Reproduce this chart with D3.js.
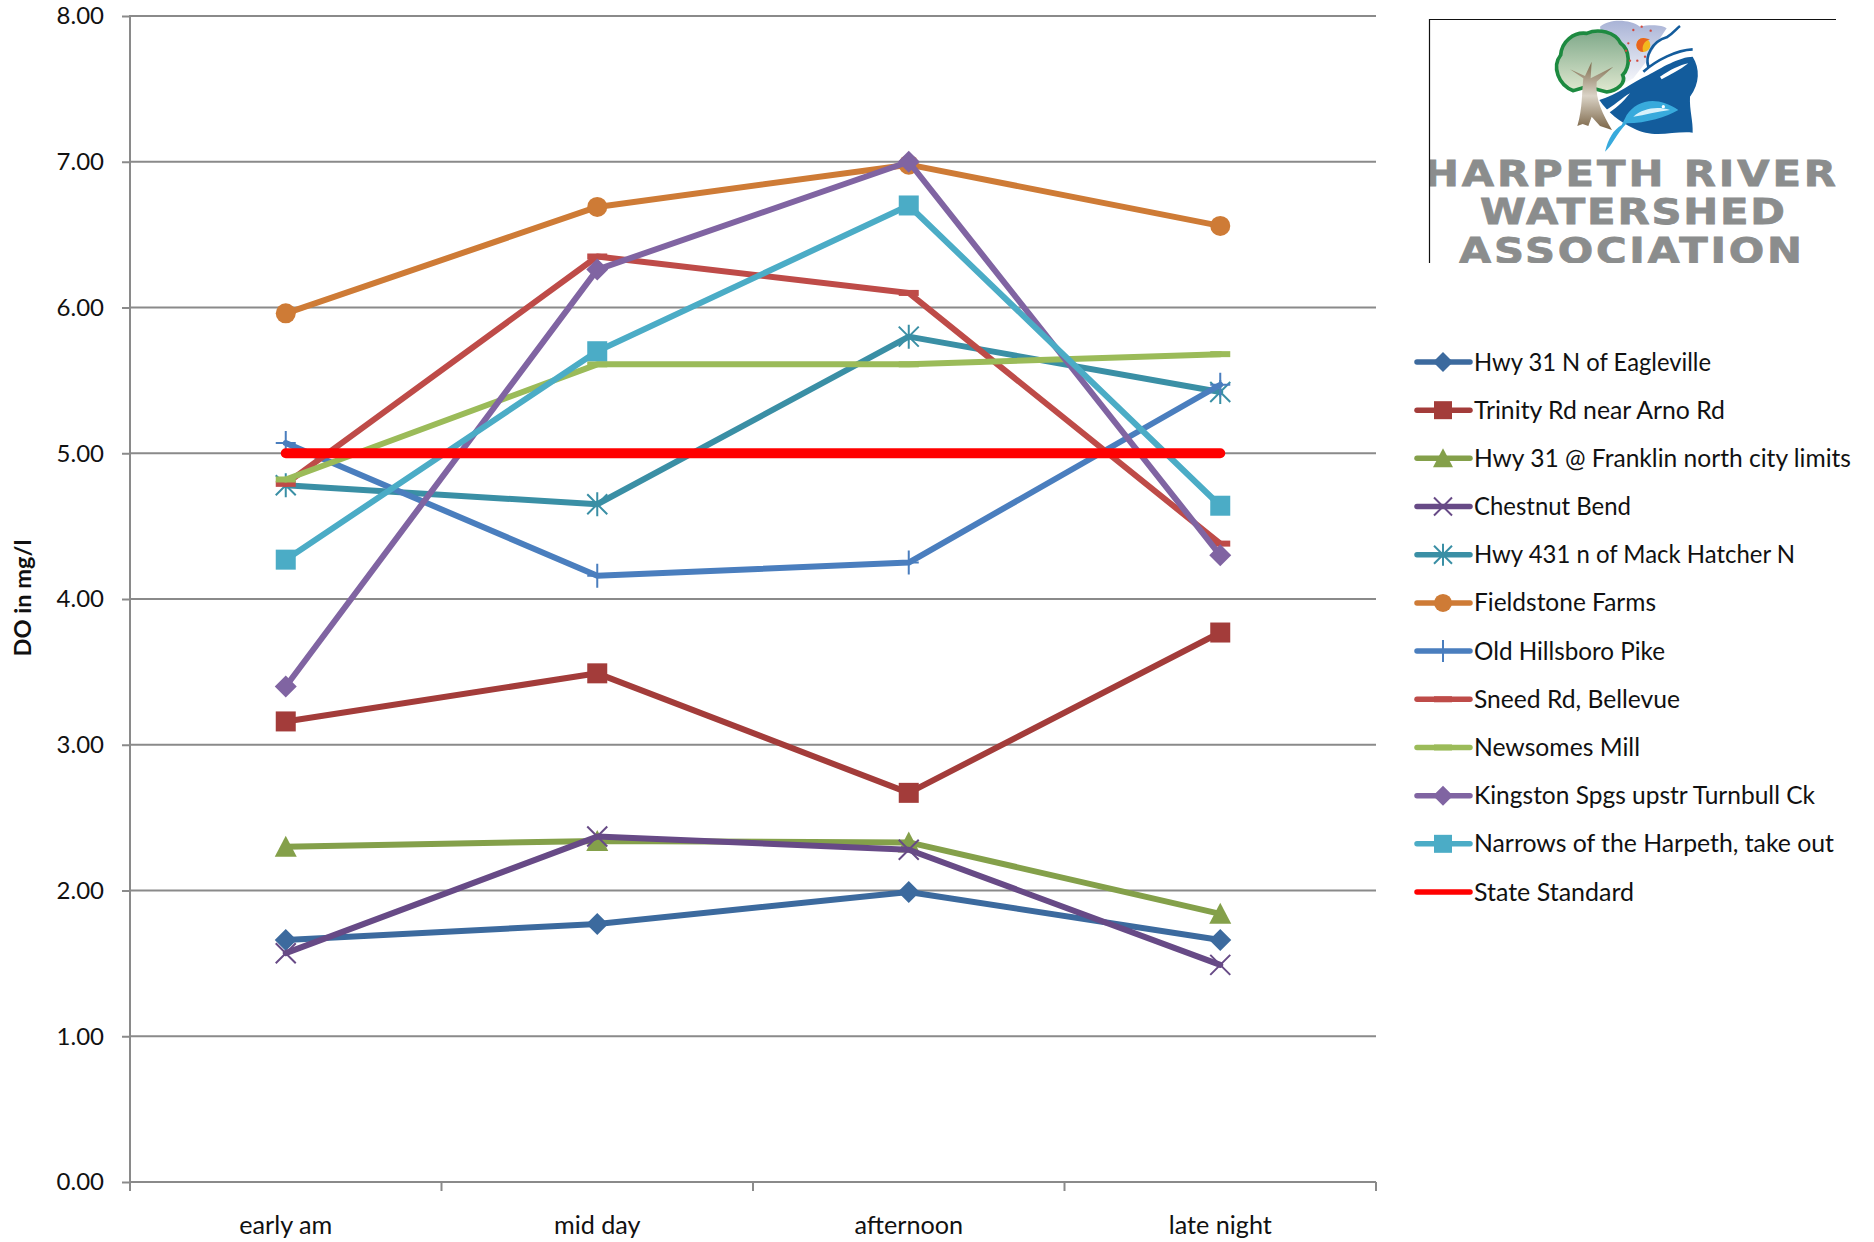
<!DOCTYPE html>
<html><head><meta charset="utf-8">
<script src="https://cdn.jsdelivr.net/npm/d3@7/dist/d3.min.js"></script>
<style>
html,body{margin:0;padding:0;background:#fff}
svg{display:block}
text{font-family:Lato,"Open Sans",sans-serif;fill:#111}
.axis path{display:none}
</style></head><body>
<svg id="chart" width="1874" height="1242"></svg>
<script>
const categories = ["early am","mid day","afternoon","late night"];
const yTicks = [0,1,2,3,4,5,6,7,8];
const seriesNames = ["Hwy 31 N of Eagleville","Trinity Rd near Arno Rd","Hwy 31 @ Franklin north city limits","Chestnut Bend","Hwy 431 n of Mack Hatcher N","Fieldstone Farms","Old Hillsboro Pike","Sneed Rd, Bellevue","Newsomes Mill","Kingston Spgs upstr Turnbull Ck","Narrows of the Harpeth, take out","State Standard"];
const hwy31N = [1.66,1.77,1.99,1.66];
const trinity = [3.16,3.49,2.67,3.77];
const franklin = [2.30,2.34,2.33,1.84];
const chestnut = [1.57,2.37,2.28,1.49];
const hwy431 = [4.78,4.65,5.80,5.42];
const fieldstone = [5.96,6.69,6.98,6.56];
const hillsboro = [5.07,4.16,4.25,5.47];
const sneed = [4.79,6.35,6.10,4.38];
const newsomes = [4.82,5.61,5.61,5.68];
const kingston = [3.40,6.26,7.00,4.30];
const narrows = [4.27,5.70,6.70,4.64];
const stateStandard = [5,5,5,5];
const seriesValues = [hwy31N,trinity,franklin,chestnut,hwy431,fieldstone,hillsboro,sneed,newsomes,kingston,narrows,stateStandard];
const seriesColors = ["#3c6a9e","#a33c3a","#84a04a","#674a86","#3a8fa5","#ce7b36","#4a7ebe","#be4b48","#9bbb59","#8064a2","#4bacc6","#ff0000"];
const markerKinds = ["diamond","square","triangle","x","star","circle","plus","dash","dash","diamond","square","none"];

const svg = d3.select("#chart");
const x = d3.scaleBand().domain(categories).range([130,1376]);
const y = d3.scaleLinear().domain([0,8]).range([1182,16]);
const GRID = "#8a8a8a";

// gridlines and value axis
const yAxis = d3.axisLeft(y).tickValues(yTicks).tickFormat(d3.format(".2f")).tickSize(8).tickPadding(18);
const gy = svg.append("g").attr("class","axis").attr("transform","translate(130,0)").call(yAxis);
gy.selectAll("line").attr("stroke",GRID).attr("stroke-width",2);
gy.selectAll("text").attr("font-size",24).attr("dy","0.33em");
svg.append("g").selectAll("line").data(yTicks).join("line")
  .attr("x1",130).attr("x2",x.range()[1]).attr("y1",d=>y(d)).attr("y2",d=>y(d))
  .attr("stroke",GRID).attr("stroke-width",2);
svg.append("line").attr("x1",130).attr("x2",130).attr("y1",y(8)-1).attr("y2",1191).attr("stroke",GRID).attr("stroke-width",2);

// category axis
const edges = categories.map(c=>x(c)+x.bandwidth()).concat([x.range()[0]]);
svg.append("g").selectAll("line").data(edges).join("line")
  .attr("x1",d=>d).attr("x2",d=>d).attr("y1",1182).attr("y2",1191).attr("stroke",GRID).attr("stroke-width",2);
const xAxis = d3.axisBottom(x).tickSize(0).tickPadding(34);
const gx = svg.append("g").attr("class","axis").attr("transform","translate(0,1182)").call(xAxis);
gx.selectAll("text").attr("font-size",25.2);

svg.append("text").attr("transform","translate(31,598) rotate(-90)").attr("text-anchor","middle")
  .attr("font-size",23.6).attr("font-weight",700).text("DO in mg/l");

// markers
function marker(g,kind,color,s){
  const r=s/2;
  if(kind==="diamond") g.append("path").attr("d",`M0,${-r-1}L${r+1},0L0,${r+1}L${-r-1},0Z`).attr("fill",color);
  else if(kind==="square") g.append("rect").attr("x",-r).attr("y",-r).attr("width",s).attr("height",s).attr("fill",color);
  else if(kind==="triangle") g.append("path").attr("d",`M0,${-r-1}L${r+1},${r}L${-r-1},${r}Z`).attr("fill",color);
  else if(kind==="circle") g.append("circle").attr("r",r).attr("fill",color);
  else if(kind==="dash") g.append("rect").attr("x",-r).attr("y",-3).attr("width",s).attr("height",6).attr("fill",color);
  else if(kind==="x"||kind==="star"||kind==="plus"){
    let d="";
    if(kind!=="plus") d+=`M${-r},${-r}L${r},${r}M${-r},${r}L${r},${-r}`;
    if(kind!=="x") d+=`M0,${-r-2}L0,${r+2}`;
    if(kind==="plus") d+=`M${-r},0L${r},0`;
    g.append("path").attr("d",d).attr("stroke",color).attr("stroke-width",2).attr("fill","none");
  }
}

// series
const line = d3.line().x((d,i)=>x(categories[i])+x.bandwidth()/2).y(d=>y(d));
seriesValues.forEach((vals,k)=>{
  const last = k===seriesValues.length-1;
  const g = svg.append("g");
  g.append("path").attr("d",line(vals)).attr("fill","none").attr("stroke",seriesColors[k])
    .attr("stroke-width",last?10:6).attr("stroke-linecap","round").attr("stroke-linejoin","round");
  if(!last) vals.forEach((v,i)=>{
    marker(g.append("g").attr("transform",`translate(${x(categories[i])+x.bandwidth()/2},${y(v)})`),markerKinds[k],seriesColors[k],20);
  });
});

// legend
const legendY = d3.scalePoint().domain(seriesNames).range([362,892]);
const legendTextFit = [237,251,377,157,321,182,191,206,166,341,360,160];
seriesNames.forEach((n,k)=>{
  const g = svg.append("g").attr("transform",`translate(0,${legendY(n)})`);
  g.append("line").attr("x1",1417).attr("x2",1470).attr("stroke",seriesColors[k]).attr("stroke-width",5.5).attr("stroke-linecap","round");
  marker(g.append("g").attr("transform","translate(1443,0)"),markerKinds[k],seriesColors[k],18);
  g.append("text").attr("x",1474).attr("dy","0.35em").attr("font-size",24.5)
    .attr("textLength",legendTextFit[k]).attr("lengthAdjust","spacingAndGlyphs").text(n);
});

// logo (drawn with zoomed-crop coordinates)
const defs = svg.append("defs");
defs.append("clipPath").attr("id","logoClip").append("rect").attr("x",1429).attr("y",19).attr("width",407).attr("height",244);
const lg1 = defs.append("linearGradient").attr("id","canopy").attr("x1",0).attr("y1",0).attr("x2",0).attr("y2",1);
lg1.append("stop").attr("offset",0).attr("stop-color","#7fa98a"); lg1.append("stop").attr("offset",1).attr("stop-color","#e0e8d0");
const lg2 = defs.append("linearGradient").attr("id","trunk").attr("x1",0).attr("y1",0).attr("x2",0).attr("y2",1);
lg2.append("stop").attr("offset",0).attr("stop-color","#7d6a4c"); lg2.append("stop").attr("offset",.5).attr("stop-color","#dad3c6"); lg2.append("stop").attr("offset",1).attr("stop-color","#7a6446");
const lg3 = defs.append("linearGradient").attr("id","sky").attr("x1",0).attr("y1",0).attr("x2",0).attr("y2",1);
lg3.append("stop").attr("offset",0).attr("stop-color","#a9b3d6"); lg3.append("stop").attr("offset",1).attr("stop-color","#ffffff");

const logo = svg.append("g").attr("clip-path","url(#logoClip)");
const art = logo.append("g").attr("transform","translate(1400,0) scale(0.33333)");
art.append("path").attr("d","M600,80 C630,55 690,58 720,80 C750,72 790,75 800,85 L770,130 L735,190 L700,235 L640,270 L620,200 Z").attr("fill","url(#sky)");
art.append("path").attr("d","M520,272 C475,255 455,200 482,165 C485,125 520,95 560,100 C595,85 645,95 662,130 C690,150 692,200 668,225 C680,250 650,272 620,276 L560,260 Z")
  .attr("fill","url(#canopy)").attr("stroke","#1d8a40").attr("stroke-width",11);
art.append("path").attr("d","M532,378 C548,325 545,280 550,235 L510,208 L555,228 L575,185 L572,235 L640,200 L590,245 C585,300 610,345 636,390 L600,378 L575,350 L565,378 L548,372 Z").attr("fill","url(#trunk)");
art.append("path").attr("d","M598,300 C650,285 700,245 745,225 C780,205 840,170 878,170 C900,205 900,250 870,290 C868,330 880,365 878,398 C820,392 760,418 700,385 C660,365 625,340 598,300 Z").attr("fill","#135c9c");
art.append("path").attr("d","M610,335 C640,320 670,290 690,280 C670,305 645,330 615,345 Z M780,230 C810,210 840,195 865,190 C840,210 810,225 785,238 Z").attr("fill","#ffffff");
art.append("path").attr("d","M680,345 C710,300 770,285 835,330 C800,350 740,370 680,370 C650,400 635,440 615,455 C625,415 640,390 665,375 Z").attr("fill","#38aadc");
art.append("circle").attr("cx",790).attr("cy",320).attr("r",5).attr("fill","#ffffff");
art.append("path").attr("d","M700,350 C730,325 770,318 810,330 C770,335 735,345 700,350 Z").attr("fill","#d8f1fb");
art.append("circle").attr("cx",730).attr("cy",135).attr("r",21).attr("fill","#f2b91f");
art.append("path").attr("d","M730,114 A21,21 0 0,0 730,156 A28,28 0 0,1 750,118 Z").attr("fill","#e8641f");
art.append("g").selectAll("circle").data([[700,90],[725,80],[752,92],[685,130],[678,152],[690,182],[712,182],[735,170]]).join("circle")
  .attr("cx",d=>d[0]).attr("cy",d=>d[1]).attr("r",3.5).attr("fill","#d2473c");
art.append("path").attr("d","M745,200 C735,170 755,125 800,112 C820,100 830,85 840,78 M730,215 C770,180 830,150 878,148")
  .attr("fill","none").attr("stroke","#135c9c").attr("stroke-width",8);
const logoStretch = 1.16;
const logoLines = [["HARPETH RIVER",1424,186,412],["WATERSHED",1480,224,305],["ASSOCIATION",1459,263,343]];
logo.selectAll("text").data(logoLines).join("text")
  .attr("transform",d=>`translate(${d[1]},${d[2]}) scale(${logoStretch},1)`)
  .attr("textLength",d=>d[3]/logoStretch).attr("lengthAdjust","spacing")
  .style("font-family","'DejaVu Sans'").style("font-weight",700).style("fill","#8b8d8d")
  .style("stroke","#8b8d8d").style("stroke-width",0.8).attr("font-size",36).text(d=>d[0]);
svg.append("path").attr("d","M1429.5,263V19.5H1836").attr("fill","none").attr("stroke","#111").attr("stroke-width",1.2);
</script>
</body></html>
